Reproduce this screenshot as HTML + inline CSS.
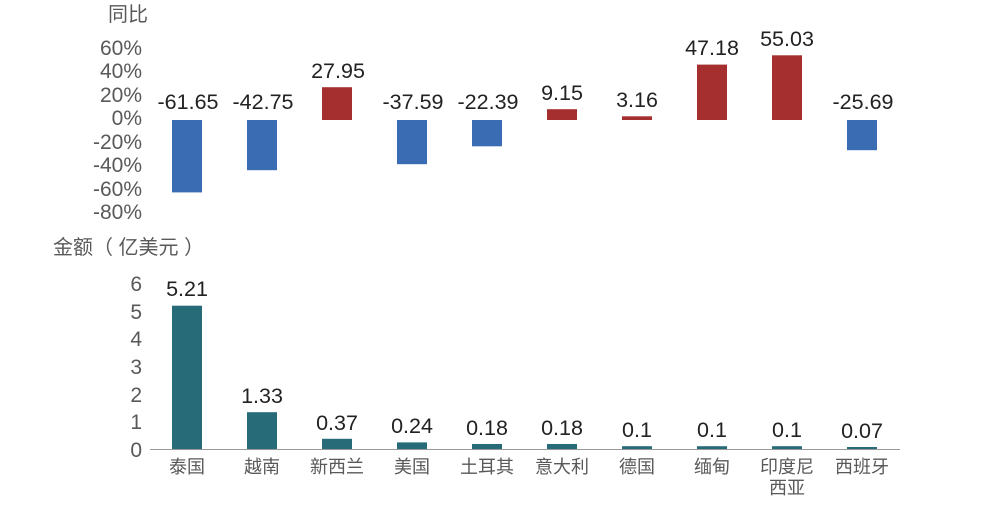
<!DOCTYPE html>
<html><head><meta charset="utf-8"><style>
body{margin:0;background:#fff;}
svg text{font-family:"Liberation Sans","Noto Sans CJK SC",sans-serif;}
</style></head><body>
<svg width="1000" height="500" xmlns="http://www.w3.org/2000/svg">
<g font-size="21" fill="#595959">
<text x="108" y="21" font-size="20">同比</text>
<g text-anchor="end" fill="#595959">
<text x="142" y="55">60%</text>
<text x="142" y="78">40%</text>
<text x="142" y="102">20%</text>
<text x="142" y="125">0%</text>
<text x="142" y="149">-20%</text>
<text x="142" y="172">-40%</text>
<text x="142" y="196">-60%</text>
<text x="142" y="219">-80%</text>
</g>
<text x="53" y="254" font-size="20">金额（ 亿美元 ）</text>
<g text-anchor="end">
<text x="142" y="291">6</text>
<text x="142" y="319">5</text>
<text x="142" y="346">4</text>
<text x="142" y="374">3</text>
<text x="142" y="402">2</text>
<text x="142" y="429">1</text>
<text x="142" y="457">0</text>
</g>
</g>
<g>
<rect x="172" y="120" width="30" height="72.4" fill="#3a6cb3"/>
<rect x="247" y="120" width="30" height="50.2" fill="#3a6cb3"/>
<rect x="322" y="87.2" width="30" height="32.8" fill="#a52f2f"/>
<rect x="397" y="120" width="30" height="44.2" fill="#3a6cb3"/>
<rect x="472" y="120" width="30" height="26.3" fill="#3a6cb3"/>
<rect x="547" y="109.2" width="30" height="10.8" fill="#a52f2f"/>
<rect x="622" y="116.3" width="30" height="3.7" fill="#a52f2f"/>
<rect x="697" y="64.6" width="30" height="55.4" fill="#a52f2f"/>
<rect x="772" y="55.3" width="30" height="64.7" fill="#a52f2f"/>
<rect x="847" y="120" width="30" height="30.2" fill="#3a6cb3"/>
</g>
<g font-size="21.5" fill="#222" text-anchor="middle">
<text x="188" y="109">-61.65</text>
<text x="263" y="109">-42.75</text>
<text x="338" y="78">27.95</text>
<text x="413" y="109">-37.59</text>
<text x="488" y="109">-22.39</text>
<text x="562" y="100">9.15</text>
<text x="637" y="107">3.16</text>
<text x="712" y="55">47.18</text>
<text x="787" y="46">55.03</text>
<text x="863" y="109">-25.69</text>
</g>
<g fill="#276a78">
<rect x="172" y="305.7" width="30" height="143.3"/>
<rect x="247" y="412.2" width="30" height="36.8"/>
<rect x="322" y="438.8" width="30" height="10.2"/>
<rect x="397" y="442.4" width="30" height="6.6"/>
<rect x="472" y="444" width="30" height="5"/>
<rect x="547" y="444" width="30" height="5"/>
<rect x="622" y="446.2" width="30" height="2.8"/>
<rect x="697" y="446.2" width="30" height="2.8"/>
<rect x="772" y="446.2" width="30" height="2.8"/>
<rect x="847" y="447" width="30" height="2"/>
</g>
<line x1="150" y1="449.5" x2="900" y2="449.5" stroke="#999" stroke-width="1"/>
<g font-size="21.5" fill="#222" text-anchor="middle">
<text x="187" y="296">5.21</text>
<text x="262" y="403">1.33</text>
<text x="337" y="430">0.37</text>
<text x="412" y="433">0.24</text>
<text x="487" y="435">0.18</text>
<text x="562" y="435">0.18</text>
<text x="637" y="437">0.1</text>
<text x="712" y="437">0.1</text>
<text x="787" y="437">0.1</text>
<text x="862" y="438">0.07</text>
</g>
<g font-size="18" fill="#595959" text-anchor="middle">
<text x="187" y="473">泰国</text>
<text x="262" y="473">越南</text>
<text x="337" y="473">新西兰</text>
<text x="412" y="473">美国</text>
<text x="487" y="473">土耳其</text>
<text x="562" y="473">意大利</text>
<text x="637" y="473">德国</text>
<text x="712" y="473">缅甸</text>
<text x="787" y="473">印度尼</text>
<text x="787" y="494">西亚</text>
<text x="862" y="473">西班牙</text>
</g>
</svg>
</body></html>
